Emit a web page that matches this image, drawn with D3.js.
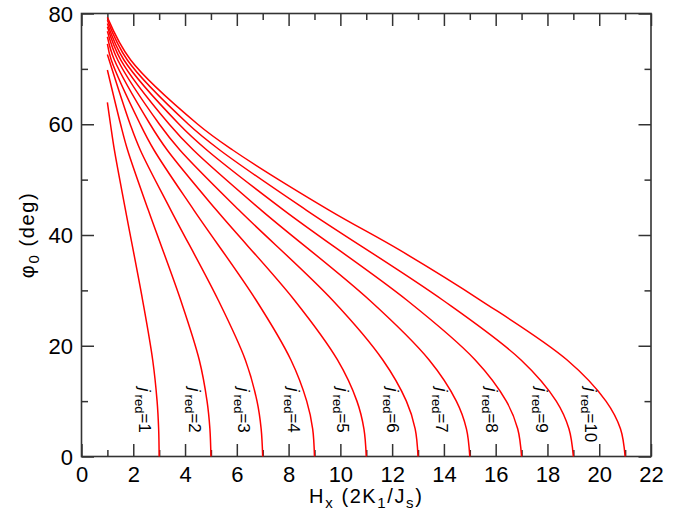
<!DOCTYPE html>
<html><head><meta charset="utf-8">
<script src="https://cdn.jsdelivr.net/npm/d3@7"></script>
<style>
body{margin:0;background:#fff}
svg{display:block}
text{font-family:"Liberation Sans",Arial,Helvetica,sans-serif;fill:#000}
</style></head>
<body><svg id="chart" width="693" height="521"></svg>
<script>
// ---- data ----
const jValues = [1, 2, 3, 4, 5, 6, 7, 8, 9, 10];

// phi0 (deg) and Hx for each curve, from the top (Hx = 1) down to phi0 = 0
const phi1 = [63.95, 60, 55.35, 44.5, 28.26, 17.43, 10, 5, 0];
const h1   = [1.00, 1.12, 1.27, 1.70, 2.36, 2.75, 2.92, 2.98, 3];
const phi2 = [69.8, 60, 55.35, 44.5, 28.26, 17.43, 10, 5, 0];
const h2   = [1.00, 1.51, 1.78, 2.58, 3.83, 4.55, 4.85, 4.96, 5];
const phi3 = [72.6, 60, 55.35, 44.5, 28.26, 17.43, 10, 5, 0];
const h3   = [1.00, 1.88, 2.27, 3.45, 5.28, 6.33, 6.78, 6.94, 7];
const phi4 = [74.5, 71.6, 60, 55.35, 44.5, 28.26, 17.43, 10, 5, 0];
const h4   = [1.00, 1.15, 2.27, 2.80, 4.34, 6.74, 8.09, 8.70, 8.93, 9];
const phi5 = [75.8, 71.6, 60, 55.35, 44.5, 28.26, 17.43, 10, 5, 0];
const h5   = [1.00, 1.27, 2.65, 3.31, 5.21, 8.22, 9.89, 10.64, 10.91, 11];
const phi6 = [76.8, 71.6, 60, 55.35, 44.5, 28.26, 17.43, 10, 5, 0];
const h6   = [1.00, 1.40, 3.01, 3.80, 6.08, 9.69, 11.64, 12.55, 12.89, 13];
const phi7 = [77.6, 71.6, 60, 55.35, 44.5, 28.26, 17.43, 10, 5, 0];
const h7   = [1.00, 1.52, 3.39, 4.32, 6.94, 11.12, 13.43, 14.48, 14.87, 15];
const phi8 = [78.2, 71.6, 60, 55.35, 44.5, 28.26, 17.43, 10, 5, 0];
const h8   = [1.00, 1.64, 3.77, 4.84, 7.81, 12.56, 15.21, 16.41, 16.85, 17];
const phi9 = [78.8, 71.6, 60, 55.35, 44.5, 28.26, 17.43, 10, 5, 0];
const h9   = [1.00, 1.77, 4.13, 5.34, 8.68, 13.95, 16.98, 18.34, 18.83, 19];
const phi10 = [79.3, 71.6, 60, 55.35, 44.5, 37.3, 28.26, 17.43, 10, 5, 0];
const h10   = [1.00, 1.90, 4.49, 5.84, 9.56, 12.28, 15.40, 18.76, 20.26, 20.82, 21];

const curvePhi = [phi1, phi2, phi3, phi4, phi5, phi6, phi7, phi8, phi9, phi10];
const curveH   = [h1, h2, h3, h4, h5, h6, h7, h8, h9, h10];

// curve labels
const labelH = [2.22, 4.14, 6.05, 7.97, 9.88, 11.80, 13.71, 15.63, 17.55, 19.46];
const labelPhi = 12.4;

// ticks
const xMajor = [0, 2, 4, 6, 8, 10, 12, 14, 16, 18, 20, 22];
const xMinor = [1, 3, 5, 7, 9, 11, 13, 15, 17, 19, 21];
const yMajor = [0, 20, 40, 60, 80];
const yMinor = [10, 30, 50, 70];

// ---- drawing ----
const svg = d3.select("#chart");
const L = 81.5, R = 651, T = 13.5, B = 456.5;
const x = d3.scaleLinear().domain([0, 22]).range([L, R]);
const y = d3.scaleLinear().domain([0, 80]).range([B, T]);

const axisColor = "#333";
const bigTick = 12.5, smallTick = 6.5;

function styleAxis(g) {
  g.select(".domain").remove();
  g.selectAll(".tick line").attr("stroke", axisColor).attr("stroke-width", 1.5);
  g.selectAll(".tick text").attr("font-size", 22).attr("fill", "#000");
}

svg.append("g").attr("transform", `translate(0,${B})`)
  .call(d3.axisBottom(x).tickValues(xMajor).tickFormat(d3.format("d")).tickSize(-bigTick).tickSizeOuter(0).tickPadding(9.6))
  .call(styleAxis);
svg.append("g").attr("transform", `translate(0,${B})`)
  .call(d3.axisBottom(x).tickValues(xMinor).tickFormat("").tickSize(-smallTick).tickSizeOuter(0))
  .call(styleAxis);
svg.append("g").attr("transform", `translate(0,${T})`)
  .call(d3.axisTop(x).tickValues(xMajor).tickFormat("").tickSize(-bigTick).tickSizeOuter(0))
  .call(styleAxis);
svg.append("g").attr("transform", `translate(0,${T})`)
  .call(d3.axisTop(x).tickValues(xMinor).tickFormat("").tickSize(-smallTick).tickSizeOuter(0))
  .call(styleAxis);
svg.append("g").attr("transform", `translate(${L},0)`)
  .call(d3.axisLeft(y).tickValues(yMajor).tickFormat(d3.format("d")).tickSize(-bigTick).tickSizeOuter(0).tickPadding(8.5))
  .call(styleAxis)
  .call(g => g.selectAll(".tick text").attr("dy", "0.35em"));
svg.append("g").attr("transform", `translate(${L},0)`)
  .call(d3.axisLeft(y).tickValues(yMinor).tickFormat("").tickSize(-smallTick).tickSizeOuter(0))
  .call(styleAxis);
svg.append("g").attr("transform", `translate(${R},0)`)
  .call(d3.axisRight(y).tickValues(yMajor).tickFormat("").tickSize(-bigTick).tickSizeOuter(0))
  .call(styleAxis);
svg.append("g").attr("transform", `translate(${R},0)`)
  .call(d3.axisRight(y).tickValues(yMinor).tickFormat("").tickSize(-smallTick).tickSizeOuter(0))
  .call(styleAxis);

svg.append("rect").attr("x", L).attr("y", T).attr("width", R - L).attr("height", B - T)
  .attr("fill", "none").attr("stroke", axisColor).attr("stroke-width", 1.6);

// curves
const line = d3.line().x(d => x(d.h)).y(d => y(d.p)).curve(d3.curveCatmullRom.alpha(0.5));
jValues.forEach((j, i) => {
  const pts = curvePhi[i].map((p, k) => ({p: p, h: curveH[i][k]}));
  svg.append("path").datum(pts).attr("d", line)
    .attr("fill", "none").attr("stroke", "#ff0000").attr("stroke-width", 1.5);
});

// curve labels (rotated, reading downward)
jValues.forEach((j, i) => {
  const t = svg.append("text")
    .attr("transform", `translate(${x(labelH[i])},${y(labelPhi)}) rotate(90)`)
    .attr("font-size", 17);
  t.append("tspan").attr("font-style", "italic").text("j");
  t.append("tspan").attr("font-size", 13).attr("dx", 3).attr("dy", 4).text("red");
  t.append("tspan").attr("dy", -4).text("=" + j);
});

// axis titles
const xt = svg.append("text").attr("x", (L + R) / 2).attr("y", 503)
  .attr("text-anchor", "middle").attr("font-size", 20).style("letter-spacing", "1.6px");
xt.append("tspan").text("H");
xt.append("tspan").attr("font-size", 15).attr("dy", 5).text("x");
xt.append("tspan").attr("dy", -5).text(" (2K");
xt.append("tspan").attr("font-size", 15).attr("dy", 5).text("1");
xt.append("tspan").attr("dy", -5).text("/J");
xt.append("tspan").attr("font-size", 15).attr("dy", 5).text("s");
xt.append("tspan").attr("dy", -5).text(")");

const yt = svg.append("text").attr("transform", `translate(34,${(T + B) / 2}) rotate(-90)`)
  .attr("text-anchor", "middle").attr("font-size", 20).style("letter-spacing", "1.6px");
yt.append("tspan").text("φ");
yt.append("tspan").attr("font-size", 15).attr("dy", 5).text("0");
yt.append("tspan").attr("dy", -5).text(" (deg)");
</script></body></html>
